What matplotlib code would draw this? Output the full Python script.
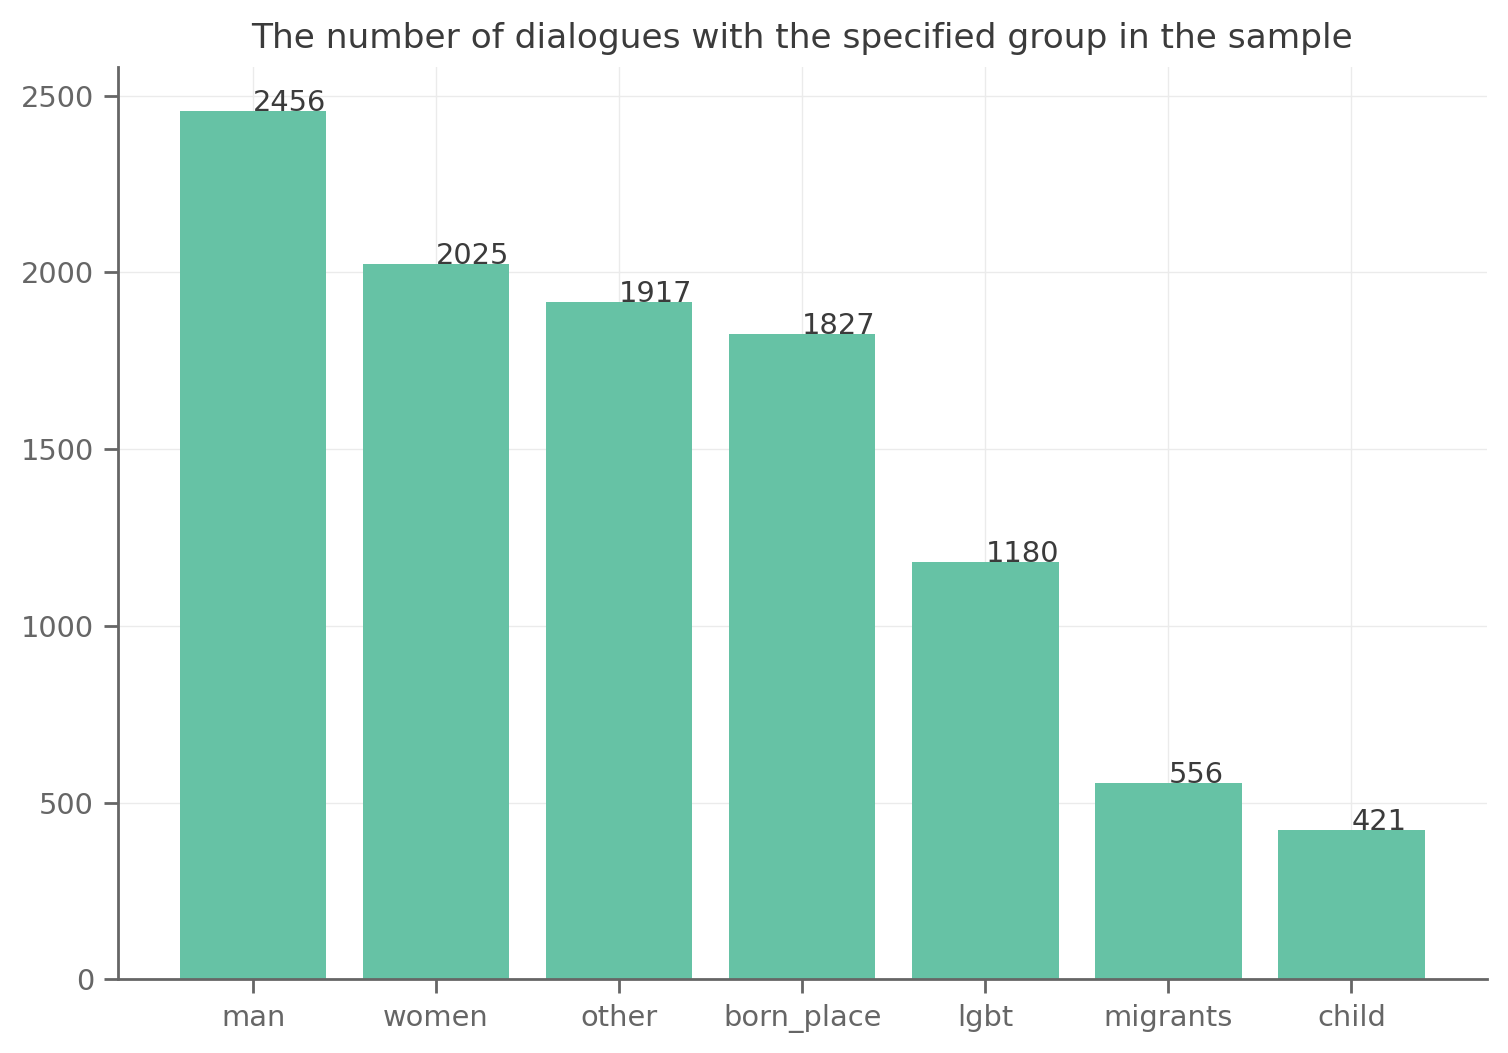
import matplotlib.pyplot as plt

groups = ["man", "women", "other", "born_place", "lgbt", "migrants", "child"]
counts = [2456, 2025, 1917, 1827, 1180, 556, 421]

plt.rcParams['font.family'] = ['DejaVu Sans']

fig, ax = plt.subplots(figsize=(7.54, 5.265), dpi=200)
fig.subplots_adjust(left=0.078, right=0.986, bottom=0.07, top=0.936)

ax.bar(groups, counts, color="#66c2a5", width=0.8, zorder=2)
for i, v in enumerate(counts):
    ax.text(i, v, str(v), ha="left", va="baseline", fontsize=10.4, color="#3b3b3b", zorder=3)

ax.set_title("The number of dialogues with the specified group in the sample",
             fontsize=12.4, color="#3b3b3b", pad=7)
ax.set_ylim(0, 2580)
ax.set_xlim(-0.74, 6.74)
ax.grid(True, color="#ebebeb", linewidth=0.5, zorder=0)
ax.set_axisbelow(True)

for s in ["top", "right"]:
    ax.spines[s].set_visible(False)
for s in ["left", "bottom"]:
    ax.spines[s].set_color("#666666")
    ax.spines[s].set_linewidth(1.0)
ax.tick_params(colors="#666666", labelsize=10.4, length=5, width=1.0)
ax.tick_params(axis="x", pad=4)

fig.savefig("out.png", dpi=200)
